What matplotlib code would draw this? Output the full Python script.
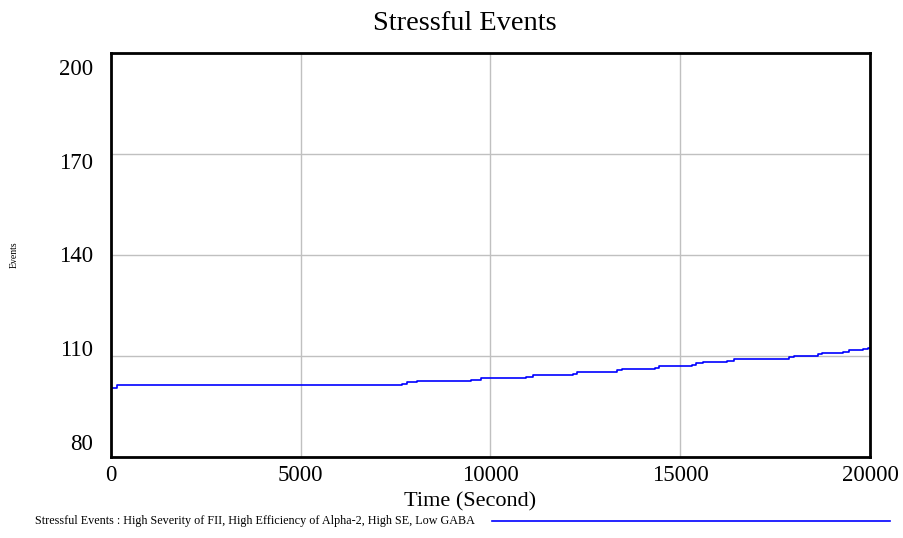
import numpy as np
import matplotlib
matplotlib.use("Agg")
import matplotlib.pyplot as plt
from matplotlib.transforms import ScaledTranslation

plt.rcParams['font.family'] = ['Liberation Serif', 'DejaVu Serif']

# simulation output (time in seconds, cumulative stressful events)
time_s = [0, 158, 7660, 7790, 8070, 9480, 9740, 10930, 11110, 12170, 12290,
          13330, 13460, 14330, 14440, 15300, 15410, 15610, 16240, 16420,
          17870, 18000, 18640, 18730, 19300, 19450, 19820, 19950, 20000]
events = [100.6, 101.4, 101.7, 102.3, 102.7, 103.0, 103.5, 103.8, 104.3,
          104.7, 105.3, 105.7, 106.0, 106.5, 106.9, 107.3, 107.9, 108.2,
          108.6, 109.2, 109.6, 110.0, 110.5, 110.9, 111.2, 111.8, 112.1,
          112.4, 112.4]

x_ticks = [0, 5000, 10000, 15000, 20000]
y_ticks = [80, 110, 140, 170, 200]
series_name = "Stressful Events : High Severity of FII, High Efficiency of Alpha-2, High SE, Low GABA"

fig = plt.figure(figsize=(9.04, 5.38), dpi=100)
ax = fig.add_axes([111 / 904, 1 - 457 / 538, 759 / 904, 404 / 538])

ax.plot(time_s, events, color='#0000ff', lw=1.2, drawstyle='steps-post')

ax.set_xlim(0, 20000)
ax.set_ylim(80, 200)
ax.set_xticks(x_ticks)
ax.set_yticks(y_ticks)
ax.set_xticklabels([str(v) for v in x_ticks], fontsize=16.5)
ax.set_yticklabels([str(v) for v in y_ticks], fontsize=16.5)
ax.tick_params(length=0)
ax.tick_params(axis='x', pad=6)
ax.tick_params(axis='y', pad=13)

ax.grid(True, color='#c0c0c0', lw=1)
ax.set_axisbelow(True)
for s in ax.spines.values():
    s.set_linewidth(2)
    s.set_color('black')

# y labels sit a bit inside the axis ends
for lab, v in zip(ax.get_yticklabels(), y_ticks):
    dy = 14 - (200 - v) * 0.242
    lab.set_transform(lab.get_transform() + ScaledTranslation(0, -dy / 100, fig.dpi_scale_trans))

fig.text(465 / 904, 1 - 24 / 538, "Stressful Events", fontsize=20.5, ha='center', va='center')
fig.text(470 / 904, 1 - 502 / 538, "Time (Second)", fontsize=16, ha='center', va='center')
fig.text(14 / 904, 1 - 255 / 538, "Events", fontsize=7, rotation=90, ha='center', va='center')

fig.text(35 / 904, 1 - 521 / 538, series_name, fontsize=8.7, ha='left', va='center')
fig.add_artist(plt.Line2D([492 / 904, 890 / 904], [1 - 521 / 538, 1 - 521 / 538],
                          color='#0000ff', lw=1.2, transform=fig.transFigure))

fig.savefig("out.png", dpi=100)
